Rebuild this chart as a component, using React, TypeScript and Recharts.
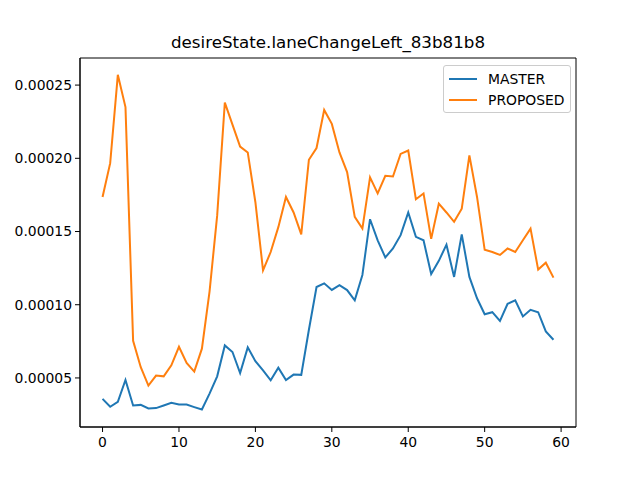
import React from "react"
import {
  LineChart,
  Line,
  XAxis,
  YAxis,
  ReferenceArea,
} from "recharts"

const title = "desireState.laneChangeLeft_83b81b8"

const master = [
  0.0000357, 0.0000303, 0.0000337, 0.0000486, 0.0000312, 0.0000316, 0.0000292, 0.0000294, 0.0000312, 0.000033,
  0.0000318, 0.0000318, 0.0000301, 0.0000285, 0.0000393, 0.0000511, 0.0000722, 0.0000677, 0.0000534, 0.0000709,
  0.0000614, 0.0000552, 0.0000484, 0.000057, 0.0000486, 0.0000523, 0.0000521, 0.0000829, 0.0001121, 0.0001146,
  0.0001101, 0.0001133, 0.00011, 0.000103, 0.0001203, 0.0001584, 0.000144, 0.0001323, 0.0001384, 0.0001475,
  0.000163, 0.0001464, 0.000144, 0.000121, 0.00013, 0.000141, 0.000119, 0.000148, 0.000119, 0.0001044,
  0.0000935, 0.0000949, 0.000089, 0.0001006, 0.000103, 0.000092, 0.0000965, 0.0000949, 0.0000818, 0.0000761,
]

const proposed = [
  0.0001736, 0.0001967, 0.000257, 0.000235, 0.0000754, 0.0000573, 0.0000448, 0.0000516, 0.0000511, 0.0000586,
  0.0000713, 0.0000602, 0.0000543, 0.00007, 0.000109, 0.000161, 0.000238, 0.000223, 0.000208, 0.000204,
  0.00017, 0.0001235, 0.000136, 0.000153, 0.0001736, 0.000163, 0.000148, 0.000199, 0.000207, 0.000233,
  0.0002235, 0.000204, 0.0001906, 0.00016, 0.000152, 0.000187, 0.000176, 0.000188, 0.0001876, 0.000203,
  0.0002053, 0.000172, 0.000176, 0.000145, 0.000169, 0.000163, 0.0001566, 0.0001656, 0.000202, 0.0001736,
  0.0001375, 0.000136, 0.000134, 0.0001384, 0.000136, 0.000144, 0.000152, 0.000124, 0.0001287, 0.0001185,
]

const xTicks = [0, 10, 20, 30, 40, 50, 60]
const yTicks = [0.00005, 0.0001, 0.00015, 0.0002, 0.00025]

const series = [
  { key: "MASTER", color: "#1f77b4" },
  { key: "PROPOSED", color: "#ff7f0e" },
]

const data = master.map((m, i) => ({ i, MASTER: m, PROPOSED: proposed[i] }))

const xDomain: [number, number] = [-2.95, 61.95]
const yDomain: [number, number] = [0.0000165, 0.0002685]

const font = "DejaVu Sans, sans-serif"
const tickStyle = { fill: "#000", fontSize: 13.9, fontFamily: font }

export default function App() {
  return (
    <div style={{ position: "fixed", left: 0, top: 0, width: 640, height: 480, background: "#fff" }}>
      <div
        style={{
          position: "absolute",
          left: 80,
          width: 496,
          top: 31,
          textAlign: "center",
          fontFamily: font,
          fontSize: 16.7,
          lineHeight: "22px",
          color: "#000",
        }}
      >
        {title}
      </div>
      <LineChart
        width={640}
        height={480}
        data={data}
        margin={{ top: 58, right: 64, bottom: 0, left: 0 }}
      >
        <XAxis
          dataKey="i"
          type="number"
          domain={xDomain}
          ticks={xTicks}
          allowDataOverflow
          height={53}
          stroke="#000"
          tickSize={5}
          tickMargin={5}
          tick={tickStyle}
        />
        <YAxis
          type="number"
          domain={yDomain}
          ticks={yTicks}
          allowDataOverflow
          width={80}
          stroke="#000"
          tickSize={5}
          tickMargin={3}
          tick={tickStyle}
          tickFormatter={(v: number) => v.toFixed(5)}
        />
        <ReferenceArea
          x1={xDomain[0]}
          x2={xDomain[1]}
          y1={yDomain[0]}
          y2={yDomain[1]}
          fill="none"
          stroke="#000"
          strokeWidth={1}
          ifOverflow="visible"
        />
        {series.map((s) => (
          <Line
            key={s.key}
            dataKey={s.key}
            stroke={s.color}
            strokeWidth={2}
            dot={false}
            isAnimationActive={false}
          />
        ))}
      </LineChart>
      {/* legend, upper right like matplotlib's "best" */}
      <div
        style={{
          position: "absolute",
          left: 443,
          top: 65,
          border: "1px solid #cccccc",
          borderRadius: 3,
          background: "rgba(255,255,255,0.8)",
          padding: "2px 5px 2px 5px",
          fontFamily: font,
          fontSize: 13.9,
          color: "#000",
        }}
      >
        {series.map((s) => (
          <div key={s.key} style={{ display: "flex", alignItems: "center", height: 21 }}>
            <div style={{ width: 28, height: 2, background: s.color, marginRight: 11 }} />
            <span>{s.key}</span>
          </div>
        ))}
      </div>
    </div>
  )
}
